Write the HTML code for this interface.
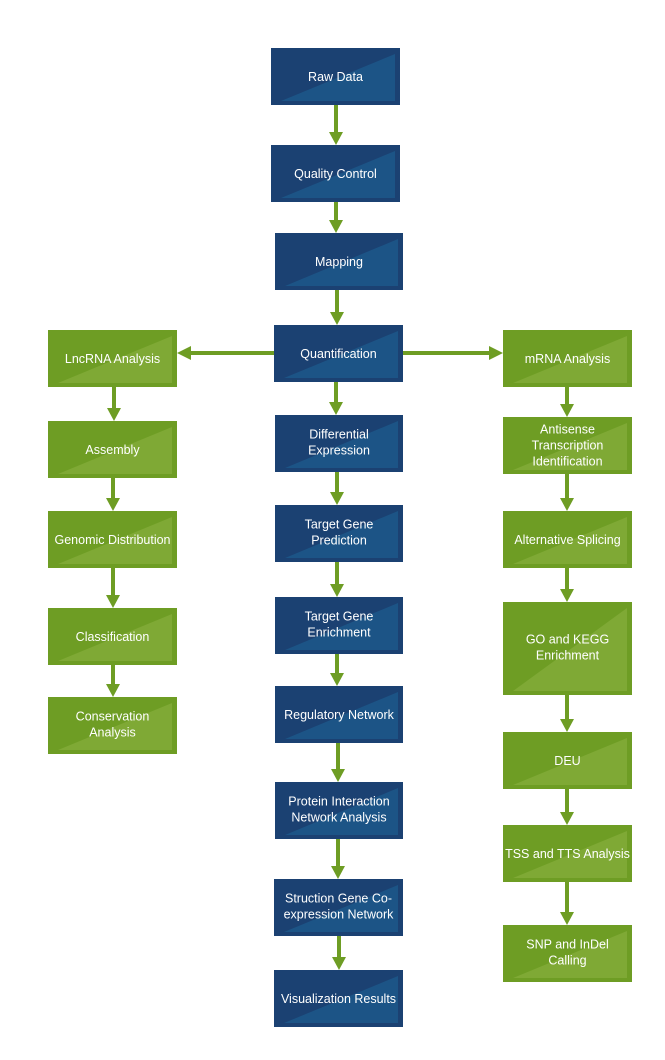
<!DOCTYPE html>
<html><head><meta charset="utf-8"><style>
html,body{margin:0;padding:0;background:#fff;}
svg{display:block;}
svg text{font-family:"Liberation Sans","DejaVu Sans",sans-serif;font-size:12.5px;fill:#fff;text-anchor:middle;}
.b{fill:#1b4172}.bt{fill:#1c5486}
.g{fill:#6e9d24}.gt{fill:#7fa935}
.ar{fill:#6e9d24}
</style></head><body>
<svg width="665" height="1060" viewBox="0 0 665 1060" xmlns="http://www.w3.org/2000/svg">
<!-- center column -->
<rect class="b" x="271" y="48" width="129" height="57"/><polygon class="bt" points="281,101 395,54 395,101"/><text x="335.5" y="81">Raw Data</text>
<rect class="b" x="271" y="145" width="129" height="57"/><polygon class="bt" points="281,198 395,151 395,198"/><text x="335.5" y="178">Quality Control</text>
<rect class="b" x="275" y="233" width="128" height="57"/><polygon class="bt" points="285,286 398,239 398,286"/><text x="339" y="266">Mapping</text>
<rect class="b" x="274" y="325" width="129" height="57"/><polygon class="bt" points="284,378 398,331 398,378"/><text x="338.5" y="358">Quantification</text>
<rect class="b" x="275" y="415" width="128" height="57"/><polygon class="bt" points="285,468 398,421 398,468"/><text x="339" y="438.5">Differential</text><text x="339" y="454.5">Expression</text>
<rect class="b" x="275" y="505" width="128" height="57"/><polygon class="bt" points="285,558 398,511 398,558"/><text x="339" y="528.5">Target Gene</text><text x="339" y="544.5">Prediction</text>
<rect class="b" x="275" y="597" width="128" height="57"/><polygon class="bt" points="285,650 398,603 398,650"/><text x="339" y="620.5">Target Gene</text><text x="339" y="636.5">Enrichment</text>
<rect class="b" x="275" y="686" width="128" height="57"/><polygon class="bt" points="285,739 398,692 398,739"/><text x="339" y="719">Regulatory Network</text>
<rect class="b" x="275" y="782" width="128" height="57"/><polygon class="bt" points="285,835 398,788 398,835"/><text x="339" y="805.5">Protein Interaction</text><text x="339" y="821.5">Network Analysis</text>
<rect class="b" x="274" y="879" width="129" height="57"/><polygon class="bt" points="284,932 398,885 398,932"/><text x="338.5" y="902.5">Struction Gene Co-</text><text x="338.5" y="918.5">expression Network</text>
<rect class="b" x="274" y="970" width="129" height="57"/><polygon class="bt" points="284,1023 398,976 398,1023"/><text x="338.5" y="1003">Visualization Results</text>

<!-- left column -->
<rect class="g" x="48" y="330" width="129" height="57"/><polygon class="gt" points="58,383 172,336 172,383"/><text x="112.5" y="363">LncRNA Analysis</text>
<rect class="g" x="48" y="421" width="129" height="57"/><polygon class="gt" points="58,474 172,427 172,474"/><text x="112.5" y="454">Assembly</text>
<rect class="g" x="48" y="511" width="129" height="57"/><polygon class="gt" points="58,564 172,517 172,564"/><text x="112.5" y="544">Genomic Distribution</text>
<rect class="g" x="48" y="608" width="129" height="57"/><polygon class="gt" points="58,661 172,614 172,661"/><text x="112.5" y="641">Classification</text>
<rect class="g" x="48" y="697" width="129" height="57"/><polygon class="gt" points="58,750 172,703 172,750"/><text x="112.5" y="720.5">Conservation</text><text x="112.5" y="736.5">Analysis</text>

<!-- right column -->
<rect class="g" x="503" y="330" width="129" height="57"/><polygon class="gt" points="513,383 627,336 627,383"/><text x="567.5" y="363">mRNA Analysis</text>
<rect class="g" x="503" y="417" width="129" height="57"/><polygon class="gt" points="513,470 627,423 627,470"/><text x="567.5" y="433.5">Antisense</text><text x="567.5" y="449.5">Transcription</text><text x="567.5" y="465.5">Identification</text>
<rect class="g" x="503" y="511" width="129" height="57"/><polygon class="gt" points="513,564 627,517 627,564"/><text x="567.5" y="544">Alternative Splicing</text>
<rect class="g" x="503" y="602" width="129" height="93"/><polygon class="gt" points="513,691 627,608 627,691"/><text x="567.5" y="643.5">GO and KEGG</text><text x="567.5" y="659.5">Enrichment</text>
<rect class="g" x="503" y="732" width="129" height="57"/><polygon class="gt" points="513,785 627,738 627,785"/><text x="567.5" y="765">DEU</text>
<rect class="g" x="503" y="825" width="129" height="57"/><polygon class="gt" points="513,878 627,831 627,878"/><text x="567.5" y="858">TSS and TTS Analysis</text>
<rect class="g" x="503" y="925" width="129" height="57"/><polygon class="gt" points="513,978 627,931 627,978"/><text x="567.5" y="948.5">SNP and InDel</text><text x="567.5" y="964.5">Calling</text>

<!-- vertical arrows: shaft + head -->
<g class="ar">
<rect x="334" y="105" width="4" height="28"/><polygon points="329,132 343,132 336,145"/>
<rect x="334" y="202" width="4" height="19"/><polygon points="329,220 343,220 336,233"/>
<rect x="335" y="290" width="4" height="23"/><polygon points="330,312 344,312 337,325"/>
<rect x="334" y="382" width="4" height="21"/><polygon points="329,402 343,402 336,415"/>
<rect x="335" y="472" width="4" height="21"/><polygon points="330,492 344,492 337,505"/>
<rect x="335" y="562" width="4" height="23"/><polygon points="330,584 344,584 337,597"/>
<rect x="335" y="654" width="4" height="20"/><polygon points="330,673 344,673 337,686"/>
<rect x="336" y="743" width="4" height="27"/><polygon points="331,769 345,769 338,782"/>
<rect x="336" y="839" width="4" height="28"/><polygon points="331,866 345,866 338,879"/>
<rect x="337" y="936" width="4" height="22"/><polygon points="332,957 346,957 339,970"/>

<rect x="112" y="387" width="4" height="22"/><polygon points="107,408 121,408 114,421"/>
<rect x="111" y="478" width="4" height="21"/><polygon points="106,498 120,498 113,511"/>
<rect x="111" y="568" width="4" height="28"/><polygon points="106,595 120,595 113,608"/>
<rect x="111" y="665" width="4" height="20"/><polygon points="106,684 120,684 113,697"/>

<rect x="565" y="387" width="4" height="18"/><polygon points="560,404 574,404 567,417"/>
<rect x="565" y="474" width="4" height="25"/><polygon points="560,498 574,498 567,511"/>
<rect x="565" y="568" width="4" height="22"/><polygon points="560,589 574,589 567,602"/>
<rect x="565" y="695" width="4" height="25"/><polygon points="560,719 574,719 567,732"/>
<rect x="565" y="789" width="4" height="24"/><polygon points="560,812 574,812 567,825"/>
<rect x="565" y="882" width="4" height="31"/><polygon points="560,912 574,912 567,925"/>

<!-- horizontal arrows -->
<rect x="190" y="351" width="84" height="4"/><polygon points="191,346 191,360 177,353"/>
<rect x="403" y="351" width="87" height="4"/><polygon points="489,346 489,360 503,353"/>
</g>
</svg>
</body></html>
